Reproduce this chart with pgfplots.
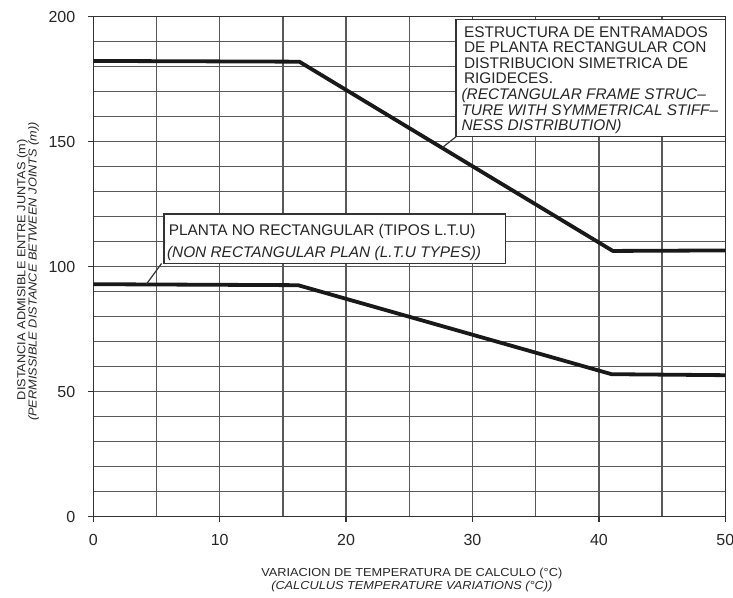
\documentclass[border=0pt]{standalone}
\usepackage{fontspec}
\setmainfont{Liberation Sans}
\newfontfamily\widefont[FakeStretch=1.1]{Liberation Sans}
\usepackage{pgfplots}
\pgfplotsset{compat=1.18}
\begin{document}
\begin{tikzpicture}
\begin{axis}[
  scale only axis, width=316pt, height=250pt,
  xmin=0, xmax=50, ymin=0, ymax=200,
  xtick={0,10,...,50}, ytick={0,50,...,200},
  minor xtick={5,15,...,45}, minor ytick={10,20,...,190},
  grid=both,
  major grid style={line width=0.65pt, black!65},
  minor grid style={line width=0.65pt, black!65},
  axis line style={line width=0.65pt, black!80},
  tick style={line width=0.65pt, black!80},
  tick align=outside, tick pos=left,
  major tick length=2.5pt, minor tick length=0pt,
  ticklabel style={font=\fontsize{8}{9}\selectfont, text=black!85},
  /pgf/number format/assume math mode=true,
  xticklabel style={yshift=-3pt},
  yticklabel style={xshift=-3pt},
  clip=false,
]
\addplot[line width=1.9pt, black!90, line join=round] coordinates {(0,182.3) (16.3,182) (41.1,106.3) (50,106.5)};
\addplot[line width=1.9pt, black!90, line join=round] coordinates {(0,93) (16.2,92.6) (41,57) (50,56.6)};

% box 1
\draw[line width=0.6pt, black!80] (axis cs:28.7,152) -- (axis cs:27.6,147.6);
\draw[line width=0.6pt, black!80, fill=white] (axis cs:28.7,152) rectangle (axis cs:50,199);
\begin{scope}[every node/.style={anchor=base west, inner sep=0pt, text=black!85, font=\fontsize{7.7}{8}\selectfont}]
\node at (axis cs:29.3,191.8) {ESTRUCTURA DE ENTRAMADOS};
\node at (axis cs:29.3,185.6) {DE PLANTA RECTANGULAR CON};
\node at (axis cs:29.3,179.3) {DISTRIBUCION SIMETRICA DE};
\node at (axis cs:29.3,173.1) {RIGIDECES.};
\node at (axis cs:29.1,166.8) {\itshape (RECTANGULAR FRAME STRUC–};
\node at (axis cs:29.1,160.6) {\itshape TURE WITH SYMMETRICAL STIFF–};
\node at (axis cs:29.1,154.4) {\itshape NESS DISTRIBUTION)};
\end{scope}

% box 2
\draw[line width=0.6pt, black!80] (axis cs:5.4,101.3) -- (axis cs:4.2,93);
\draw[line width=0.6pt, black!80, fill=white] (axis cs:5.6,101.3) rectangle (axis cs:32.6,121.1);
\begin{scope}[every node/.style={anchor=base west, inner sep=0pt, text=black!85, font=\fontsize{7.7}{8}\selectfont}]
\node at (axis cs:5.94,112.5) {PLANTA NO RECTANGULAR (TIPOS L.T.U)};
\node at (axis cs:5.8,103.8) {\itshape (NON RECTANGULAR PLAN (L.T.U TYPES))};
\end{scope}

% axis labels
\begin{scope}[every node/.style={inner sep=0pt, text=black!85, font=\widefont\fontsize{5.8}{6}\selectfont}]
\path (axis cs:25.2,0) ++(0,-30pt) node[anchor=base] {VARIACION DE TEMPERATURA DE CALCULO (°C)};
\path (axis cs:25.2,0) ++(0,-36.65pt) node[anchor=base] {\itshape (CALCULUS TEMPERATURE VARIATIONS (°C))};
\path (axis cs:0,98.7) ++(-34pt,0) node[rotate=90, anchor=base] {DISTANCIA ADMISIBLE ENTRE JUNTAS (m)};
\path (axis cs:0,98.1) ++(-28.3pt,0) node[rotate=90, anchor=base] {\itshape (PERMISSIBLE DISTANCE BETWEEN JOINTS (m))};
\end{scope}
\end{axis}
\pgfresetboundingbox
\path[use as bounding box] (-46.65pt,-40.65pt) rectangle (319.85pt,258.35pt);
\end{tikzpicture}
\end{document}
